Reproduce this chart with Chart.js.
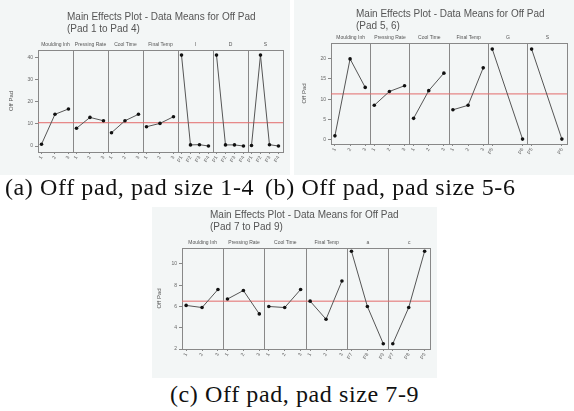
<!DOCTYPE html>
<html>
<head>
<meta charset="utf-8">
<script src="https://cdn.jsdelivr.net/npm/chart.js@4.4.1/dist/chart.umd.min.js"></script>
<style>
body { margin: 0; width: 574px; height: 411px; background: #fff; position: relative; overflow: hidden; font-family: "Liberation Sans", Arial, sans-serif; }
.panel { position: absolute; background: #f3f6f6; }
.panel canvas { position: absolute; left: 0; top: 0; }
.ttl { position: absolute; font-size: 10px; line-height: 12px; color: #555; white-space: nowrap; }
.cap { position: absolute; font-family: "Liberation Serif", "Times New Roman", serif; font-size: 24px; line-height: 26px; letter-spacing: 0.6px; color: #111; white-space: nowrap; }
</style>
</head>
<body>
<div class="panel" style="left:0;top:0;width:290px;height:175px"><canvas id="chartA" width="290" height="175"></canvas></div>
<div class="panel" style="left:294px;top:0;width:280px;height:175px"><canvas id="chartB" width="280" height="175"></canvas></div>
<div class="panel" style="left:152px;top:207px;width:285px;height:171px"><canvas id="chartC" width="285" height="171"></canvas></div>

<div class="ttl" style="left:67px;top:11px">Main Effects Plot - Data Means for Off Pad<br>(Pad 1 to Pad 4)</div>
<div class="ttl" style="left:356px;top:8px">Main Effects Plot - Data Means for Off Pad<br>(Pad 5, 6)</div>
<div class="ttl" style="left:210px;top:209px">Main Effects Plot - Data Means for Off Pad<br>(Pad 7 to Pad 9)</div>

<div class="cap" style="left:5px;top:174px">(a) Off pad, pad size 1-4</div>
<div class="cap" style="left:265px;top:174px">(b) Off pad, pad size 5-6</div>
<div class="cap" style="left:170px;top:381px">(c) Off pad, pad size 7-9</div>

<script>
// panel (a) pad 1 to 4
var factorsA = ['Moulding Inh', 'Pressing Rate', 'Cool Time', 'Final Temp', 'I', 'D', 'S'];
var levelsA = [['1', '2', '3'], ['1', '2', '3'], ['1', '2', '3'], ['1', '2', '3'],
    ['P1', 'P2', 'P3', 'P4'], ['P1', 'P2', 'P3', 'P4'], ['P1', 'P2', 'P3', 'P4']];
var meansA = [[0.8, 14.3, 16.7], [8.0, 12.9, 11.4], [6.0, 11.4, 14.3], [8.7, 10.2, 13.2],
    [41, 0.5, 0.6, 0], [41, 0.5, 0.5, 0], [0.2, 41, 0.6, 0]];
var grandA = 10.5;

// panel (b) pad 5, 6
var factorsB = ['Moulding Inh', 'Pressing Rate', 'Cool Time', 'Final Temp', 'G', 'S'];
var levelsB = [['1', '2', '3'], ['1', '2', '3'], ['1', '2', '3'], ['1', '2', '3'],
    ['P5', 'P6'], ['P5', 'P6']];
var meansB = [[1.0, 19.9, 12.9], [8.5, 11.9, 13.3], [5.3, 12.1, 16.4], [7.4, 8.5, 17.7],
    [22.3, 0.2], [22.3, 0.2]];
var grandB = 11.3;

// panel (c) pad 7 to 9
var factorsC = ['Moulding Inh', 'Pressing Rate', 'Cool Time', 'Final Temp', 'a', 'c'];
var levelsC = [['1', '2', '3'], ['1', '2', '3'], ['1', '2', '3'], ['1', '2', '3'],
    ['P7', 'P8', 'P9'], ['P7', 'P8', 'P9']];
var meansC = [[6.1, 5.9, 7.6], [6.7, 7.5, 5.3], [6.0, 5.9, 7.6], [6.5, 4.8, 8.4],
    [11.2, 6.0, 2.5], [2.5, 5.9, 11.2]];
var grandC = 6.5;

var lineCol = '#888';

// red line at the grand mean
var meanLine = {
    id: 'meanLine',
    beforeDatasetsDraw: function (chart, args, opts) {
        var y = chart.scales.y.getPixelForValue(opts.value);
        var a = chart.chartArea;
        var ctx = chart.ctx;
        ctx.save();
        ctx.strokeStyle = '#e36b6b';
        ctx.lineWidth = 1;
        ctx.beginPath();
        ctx.moveTo(a.left, y);
        ctx.lineTo(a.right, y);
        ctx.stroke();
        ctx.restore();
    }
};

function buildChart(id, factors, levels, means, grand, yOpt, box) {
    var xs = [], xLabels = [], centers = [], datasets = [];
    var nG = factors.length;
    for (var g = 0; g < nG; g++) {
        var n = levels[g].length;
        var pts = [];
        for (var k = 0; k < n; k++) {
            var x = g + 0.1 + k * 0.77 / (n - 1);
            xs.push(x);
            xLabels.push(levels[g][k]);
            pts.push({ x: x, y: means[g][k] });
        }
        centers.push(g + 0.5);
        datasets.push({
            data: pts,
            borderColor: '#555',
            borderWidth: 1,
            pointRadius: 1.8,
            pointBackgroundColor: '#111',
            pointBorderWidth: 0
        });
    }

    return new Chart(document.getElementById(id), {
        type: 'line',
        data: { datasets: datasets },
        plugins: [meanLine],
        options: {
            responsive: false,
            animation: false,
            layout: { padding: { left: box.left, right: box.right, top: box.top, bottom: 0 } },
            plugins: {
                legend: { display: false },
                tooltip: { enabled: false },
                meanLine: { value: grand }
            },
            scales: {
                x: {
                    type: 'linear', position: 'bottom', min: 0, max: nG,
                    afterBuildTicks: function (s) { s.ticks = xs.map(function (v) { return { value: v }; }); },
                    afterFit: function (s) { s.height = box.xh; },
                    ticks: {
                        callback: function (v, i) { return xLabels[i]; },
                        font: { size: 5 }, color: '#666', autoSkip: false,
                        minRotation: 60, maxRotation: 60, padding: 1
                    },
                    grid: { drawOnChartArea: false, tickLength: 2, color: lineCol },
                    border: { color: lineCol }
                },
                xTop: {
                    type: 'linear', position: 'top', min: 0, max: nG,
                    afterBuildTicks: function (s) { s.ticks = centers.map(function (v) { return { value: v }; }); },
                    afterFit: function (s) { s.height = 12; },
                    ticks: {
                        callback: function (v, i) { return factors[i]; },
                        font: { size: 5 }, color: '#555', autoSkip: false,
                        maxRotation: 0, padding: 2
                    },
                    grid: { drawOnChartArea: false, drawTicks: false },
                    border: { color: lineCol }
                },
                xSep: {
                    type: 'linear', position: 'bottom', min: 0, max: nG,
                    afterFit: function (s) { s.height = 0; },
                    ticks: { stepSize: 1, display: false },
                    grid: { drawTicks: false, color: lineCol },
                    border: { display: false }
                },
                y: {
                    min: yOpt.min, max: yOpt.max,
                    afterFit: function (s) { s.width = box.yw; },
                    ticks: { stepSize: yOpt.step, includeBounds: false, font: { size: 5 }, color: '#666', padding: 2 },
                    grid: { drawOnChartArea: false, tickLength: 3, color: lineCol },
                    border: { color: lineCol },
                    title: { display: true, text: 'Off Pad', font: { size: 6 }, color: '#555', padding: 0 }
                }
            }
        }
    });
}

buildChart('chartA', factorsA, levelsA, meansA, grandA,
    { min: -2.7, max: 43.3, step: 10 }, { left: 8, right: 7, top: 38, yw: 30, xh: 23 });
buildChart('chartB', factorsB, levelsB, meansB, grandB,
    { min: -1.0, max: 23.8, step: 5 }, { left: 7, right: 7, top: 31, yw: 30, xh: 31 });
buildChart('chartC', factorsC, levelsC, meansC, grandC,
    { min: 2, max: 11.5, step: 2 }, { left: 4, right: 7, top: 29, yw: 26, xh: 29 });
</script>
</body>
</html>
